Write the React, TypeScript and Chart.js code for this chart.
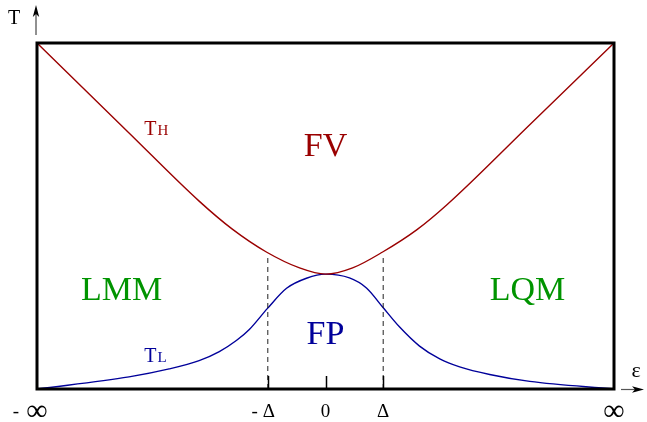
import React, { useEffect, useRef } from "react";
import { Chart, registerables } from "chart.js";

Chart.register(...registerables);

// T_H (upper transition curve)
const redX = [-1, -0.681, -0.438, -0.323, -0.205, -0.09, 0, 0.094, 0.198, 0.316, 0.42, 0.708, 1];
const redY = [1, 0.74, 0.543, 0.462, 0.396, 0.35, 0.332, 0.35, 0.396, 0.46, 0.532, 0.764, 1];

// T_L (lower transition curve)
const blueX = [-1, -0.681, -0.542, -0.438, -0.368, -0.309, -0.264, -0.201, -0.135, -0.066, 0, 0.083, 0.142, 0.198, 0.257, 0.326, 0.396, 0.465, 0.569, 0.708, 1];
const blueY = [0, 0.035, 0.058, 0.082, 0.108, 0.14, 0.172, 0.233, 0.291, 0.32, 0.332, 0.321, 0.292, 0.237, 0.179, 0.124, 0.087, 0.064, 0.042, 0.022, 0];

// axis ticks
const tickValues = [-1, -0.2, 0, 0.2, 1];
const tickLabels = ["-∞", "-Δ", "0", "Δ", "∞"];
const innerTicks = [-0.2, 0, 0.2];
const deltaValues = [-0.2, 0.2];
const deltaTop = 0.387;

const SERIF = '"Liberation Serif", "Times New Roman", serif';
const RED = "#9a0000";
const BLUE = "#00009a";
const GREEN = "#009400";

const decor = {
  id: "decor",
  afterDatasetsDraw(chart: any) {
    const { ctx, chartArea: a, scales } = chart;
    const xs = scales.x;
    const ys = scales.y;
    ctx.save();

    // frame
    ctx.strokeStyle = "#000";
    ctx.lineWidth = 3;
    ctx.strokeRect(a.left, a.top, a.right - a.left, a.bottom - a.top);

    // inner tick marks
    ctx.lineWidth = 1.5;
    innerTicks.forEach((v) => {
      const px = Math.round(xs.getPixelForValue(v)) + 0.5;
      ctx.beginPath();
      ctx.moveTo(px, a.bottom);
      ctx.lineTo(px, a.bottom - 13);
      ctx.stroke();
    });

    // T axis arrow
    const ax = a.left - 1;
    ctx.strokeStyle = "#222";
    ctx.lineWidth = 1;
    ctx.beginPath();
    ctx.moveTo(ax, a.top - 8);
    ctx.lineTo(ax, 14);
    ctx.stroke();
    ctx.fillStyle = "#000";
    ctx.beginPath();
    ctx.moveTo(ax, 5);
    ctx.lineTo(ax - 3.2, 17);
    ctx.lineTo(ax, 14);
    ctx.lineTo(ax + 3.2, 17);
    ctx.closePath();
    ctx.fill();

    // epsilon axis arrow
    const ay = a.bottom + 0.5;
    ctx.strokeStyle = "#555";
    ctx.lineWidth = 1.2;
    ctx.beginPath();
    ctx.moveTo(a.right + 7, ay);
    ctx.lineTo(a.right + 22, ay);
    ctx.stroke();
    ctx.fillStyle = "#000";
    ctx.beginPath();
    ctx.moveTo(a.right + 30, ay);
    ctx.lineTo(a.right + 18, ay - 3.2);
    ctx.lineTo(a.right + 21, ay);
    ctx.lineTo(a.right + 18, ay + 3.2);
    ctx.closePath();
    ctx.fill();

    // axis titles
    ctx.fillStyle = "#000";
    ctx.textAlign = "center";
    ctx.textBaseline = "alphabetic";
    ctx.font = `20px ${SERIF}`;
    ctx.fillText("T", 14, 24);
    ctx.font = `22px ${SERIF}`;
    ctx.fillText("ε", 636, 377);

    // tick labels
    tickValues.forEach((v, i) => {
      const lbl = tickLabels[i];
      const px = xs.getPixelForValue(v);
      const neg = lbl.startsWith("-");
      const body = neg ? lbl.slice(1) : lbl;
      const isInf = body === "∞";
      ctx.textAlign = "center";
      ctx.textBaseline = "alphabetic";
      if (isInf) {
        ctx.font = `30px ${SERIF}`;
        ctx.fillText(body, px, 420);
      } else {
        ctx.font = `19px ${SERIF}`;
        ctx.fillText(body, px + (neg ? 1 : 0), 417);
      }
      if (neg) {
        ctx.font = `19px ${SERIF}`;
        ctx.textAlign = "right";
        ctx.fillText("-", px - (isInf ? 18 : 10), 417);
      }
    });

    // region labels
    const region = (t: string, xv: number, yv: number, color: string) => {
      ctx.fillStyle = color;
      ctx.font = `34px ${SERIF}`;
      ctx.textAlign = "center";
      ctx.textBaseline = "middle";
      ctx.fillText(t, xs.getPixelForValue(xv), ys.getPixelForValue(yv));
    };
    region("FV", 0, 0.7, RED);
    region("FP", 0, 0.156, BLUE);
    region("LMM", -0.707, 0.283, GREEN);
    region("LQM", 0.7, 0.283, GREEN);

    // curve labels (small caps style)
    const curveLabel = (big: string, small: string, xv: number, yv: number, color: string) => {
      const px = xs.getPixelForValue(xv);
      const py = ys.getPixelForValue(yv);
      ctx.fillStyle = color;
      ctx.textAlign = "left";
      ctx.textBaseline = "alphabetic";
      ctx.font = `20px ${SERIF}`;
      ctx.fillText(big, px, py);
      const w = ctx.measureText(big).width;
      ctx.font = `15px ${SERIF}`;
      ctx.fillText(small, px + w + 1, py);
    };
    curveLabel("T", "H", -0.628, 0.734, RED);
    curveLabel("T", "L", -0.628, 0.078, BLUE);

    ctx.restore();
  },
};

export default function App() {
  const ref = useRef<HTMLCanvasElement | null>(null);

  useEffect(() => {
    document.body.style.margin = "0";
    const canvas = ref.current;
    if (!canvas) return;
    const line = (xsArr: number[], ysArr: number[], color: string) => ({
      data: xsArr.map((x, i) => ({ x, y: ysArr[i] })),
      borderColor: color,
      borderWidth: 1.4,
      pointRadius: 0,
      fill: false,
      cubicInterpolationMode: "monotone" as const,
      clip: false as any,
    });
    const deltaSets = deltaValues.map((v) => ({
      data: [
        { x: v, y: 0 },
        { x: v, y: deltaTop },
      ],
      borderColor: "#222",
      borderWidth: 1,
      borderDash: [5, 4],
      pointRadius: 0,
      fill: false,
      tension: 0,
    }));
    const chart = new Chart(canvas, {
      type: "line",
      data: {
        datasets: [
          ...deltaSets,
          line(redX, redY, RED),
          line(blueX, blueY, BLUE),
        ] as any,
      },
      options: {
        animation: false,
        responsive: false,
        devicePixelRatio: 1,
        layout: { padding: { left: 37, top: 43, right: 33, bottom: 33 } },
        plugins: { legend: { display: false }, tooltip: { enabled: false } },
        scales: {
          x: { type: "linear", min: -1, max: 1, display: false },
          y: { type: "linear", min: 0, max: 1, display: false },
        },
      },
      plugins: [decor],
    });
    return () => chart.destroy();
  }, []);

  return (
    <canvas
      ref={ref}
      width={647}
      height={422}
      style={{ display: "block", width: 647, height: 422, background: "#fff" }}
    />
  );
}
